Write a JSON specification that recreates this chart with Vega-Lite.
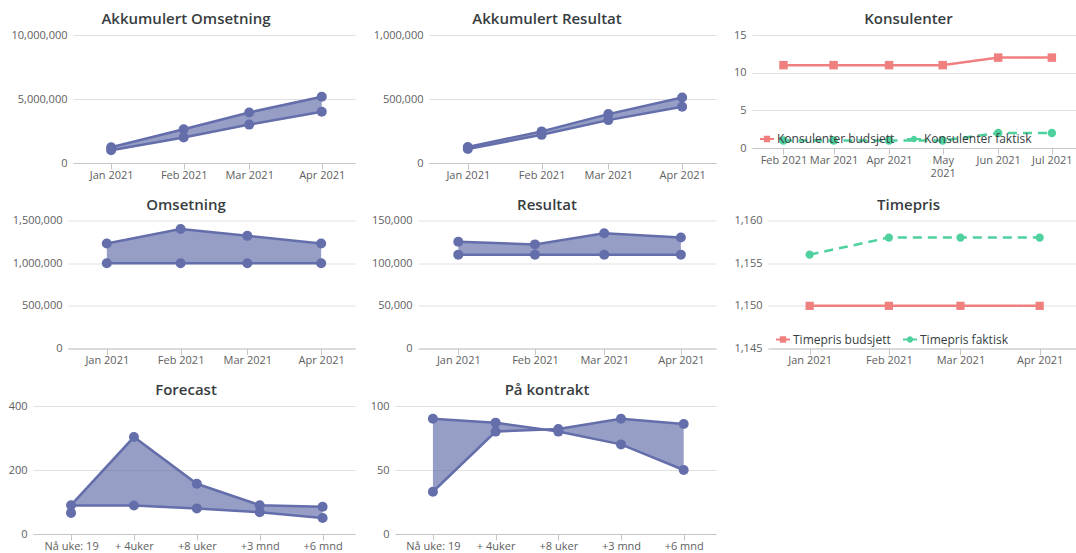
{
  "$schema": "https://vega.github.io/schema/vega-lite/v6.json",
  "padding": {"left": 0, "top": 12, "right": 0, "bottom": 0},
  "columns": 1,
  "align": "none",
  "spacing": 17.5,
  "config": {
    "font": "Open Sans",
    "view": {"stroke": null},
    "title": {"font": "Open Sans", "fontSize": 15, "fontWeight": 600, "color": "#373d3f", "offset": 2, "baseline": "alphabetic", "anchor": "middle", "frame": "group"},
    "axis": {"labelFont": "Open Sans", "labelFontSize": 11, "labelColor": "#606060", "title": null, "gridColor": "#e0e0e0", "domainColor": "#c6c6c6", "tickColor": "#c6c6c6"},
    "axisX": {"grid": false, "tickSize": 6, "labelPadding": 0, "labelAngle": 0, "labelOverlap": false, "labelFlush": false},
    "axisY": {"domain": false, "ticks": false, "tickSize": 0, "labelPadding": 6, "grid": true},
    "legend": {"labelFont": "Open Sans", "labelFontSize": 12, "labelColor": "#373d3f"}
  },
  "datasets": {
    "monthly": [
      {"month": "2021-01-01", "akk_oms_hi": 1230000, "akk_oms_lo": 1000000, "akk_res_hi": 125000, "akk_res_lo": 110000, "oms_hi": 1230000, "oms_lo": 1000000, "res_hi": 125000, "res_lo": 110000},
      {"month": "2021-02-01", "akk_oms_hi": 2630000, "akk_oms_lo": 2000000, "akk_res_hi": 247000, "akk_res_lo": 220000, "oms_hi": 1400000, "oms_lo": 1000000, "res_hi": 122000, "res_lo": 110000},
      {"month": "2021-03-01", "akk_oms_hi": 3950000, "akk_oms_lo": 3000000, "akk_res_hi": 382000, "akk_res_lo": 335000, "oms_hi": 1320000, "oms_lo": 1000000, "res_hi": 135000, "res_lo": 110000},
      {"month": "2021-04-01", "akk_oms_hi": 5180000, "akk_oms_lo": 4000000, "akk_res_hi": 512000, "akk_res_lo": 440000, "oms_hi": 1230000, "oms_lo": 1000000, "res_hi": 130000, "res_lo": 110000}
    ],
    "kons": [
      {"month": "2021-02-01", "series": "Konsulenter budsjett", "value": 11},
      {"month": "2021-03-01", "series": "Konsulenter budsjett", "value": 11},
      {"month": "2021-04-01", "series": "Konsulenter budsjett", "value": 11},
      {"month": "2021-05-01", "series": "Konsulenter budsjett", "value": 11},
      {"month": "2021-06-01", "series": "Konsulenter budsjett", "value": 12},
      {"month": "2021-07-01", "series": "Konsulenter budsjett", "value": 12},
      {"month": "2021-02-01", "series": "Konsulenter faktisk", "value": 1},
      {"month": "2021-03-01", "series": "Konsulenter faktisk", "value": 1},
      {"month": "2021-04-01", "series": "Konsulenter faktisk", "value": 1},
      {"month": "2021-05-01", "series": "Konsulenter faktisk", "value": 1},
      {"month": "2021-06-01", "series": "Konsulenter faktisk", "value": 2},
      {"month": "2021-07-01", "series": "Konsulenter faktisk", "value": 2}
    ],
    "timepris": [
      {"month": "2021-01-01", "series": "Timepris budsjett", "value": 1150},
      {"month": "2021-02-01", "series": "Timepris budsjett", "value": 1150},
      {"month": "2021-03-01", "series": "Timepris budsjett", "value": 1150},
      {"month": "2021-04-01", "series": "Timepris budsjett", "value": 1150},
      {"month": "2021-01-01", "series": "Timepris faktisk", "value": 1156},
      {"month": "2021-02-01", "series": "Timepris faktisk", "value": 1158},
      {"month": "2021-03-01", "series": "Timepris faktisk", "value": 1158},
      {"month": "2021-04-01", "series": "Timepris faktisk", "value": 1158}
    ],
    "forecast": [
      {"k": "Nå uke: 19", "hi": 90, "lo": 66, "lo_line": 89},
      {"k": "+ 4uker", "hi": 303, "lo": 89, "lo_line": 89},
      {"k": "+8 uker", "hi": 157, "lo": 80, "lo_line": 80},
      {"k": "+3 mnd", "hi": 90, "lo": 68, "lo_line": 68},
      {"k": "+6 mnd", "hi": 85, "lo": 50, "lo_line": 50}
    ],
    "kontrakt": [
      {"k": "Nå uke: 19", "a": 90, "b": 33},
      {"k": "+ 4uker", "a": 87, "b": 80},
      {"k": "+8 uker", "a": 80, "b": 82},
      {"k": "+3 mnd", "a": 70, "b": 90},
      {"k": "+6 mnd", "a": 50, "b": 86}
    ]
  },
  "concat": [
    {
      "spacing": 2,
      "hconcat": [
        {"width": 7, "height": 1, "data": {"values": []}, "mark": {"type": "point"}, "encoding": {}},
        {
          "width": 282, "height": 128,
          "title": {"text": "Akkumulert Omsetning", "dx": -28},
          "data": {"name": "monthly"},
          "encoding": {"x": {"field": "month", "type": "temporal",
            "scale": {"type": "utc", "domain": [{"year": 2020, "month": 12, "date": 15, "hours": 17, "utc": true}, {"year": 2021, "month": 4, "date": 15, "hours": 5, "utc": true}]},
            "axis": {"values": [{"year": 2021, "month": 1, "date": 1, "utc": true}, {"year": 2021, "month": 2, "date": 1, "utc": true}, {"year": 2021, "month": 3, "date": 1, "utc": true}, {"year": 2021, "month": 4, "date": 1, "utc": true}], "labelExpr": "utcFormat(datum.value, '%b %Y')"}}},
          "layer": [
            {"mark": {"type": "area", "color": "#646eaa", "opacity": 0.67},
             "encoding": {"y": {"field": "akk_oms_hi", "type": "quantitative", "scale": {"domain": [0, 10000000], "nice": false}, "axis": {"values": [0, 5000000, 10000000], "format": ",.0f", "minExtent": 64}}, "y2": {"field": "akk_oms_lo"}}},
            {"transform": [{"fold": ["akk_oms_hi", "akk_oms_lo"]}],
             "mark": {"type": "line", "color": "#646eaa", "strokeWidth": 2.5},
             "encoding": {"y": {"field": "value", "type": "quantitative", "scale": {"domain": [0, 10000000], "nice": false}}, "detail": {"field": "key"}}},
            {"transform": [{"fold": ["akk_oms_hi", "akk_oms_lo"]}],
             "mark": {"type": "point", "filled": true, "opacity": 1, "size": 100, "color": "#646eaa"},
             "encoding": {"y": {"field": "value", "type": "quantitative", "scale": {"domain": [0, 10000000], "nice": false}}}}
          ]
        },
        {
          "width": 287, "height": 128,
          "title": {"text": "Akkumulert Resultat", "dx": -25.5},
          "data": {"name": "monthly"},
          "encoding": {"x": {"field": "month", "type": "temporal",
            "scale": {"type": "utc", "domain": [{"year": 2020, "month": 12, "date": 15, "hours": 17, "utc": true}, {"year": 2021, "month": 4, "date": 15, "hours": 5, "utc": true}]},
            "axis": {"values": [{"year": 2021, "month": 1, "date": 1, "utc": true}, {"year": 2021, "month": 2, "date": 1, "utc": true}, {"year": 2021, "month": 3, "date": 1, "utc": true}, {"year": 2021, "month": 4, "date": 1, "utc": true}], "labelExpr": "utcFormat(datum.value, '%b %Y')"}}},
          "layer": [
            {"mark": {"type": "area", "color": "#646eaa", "opacity": 0.67},
             "encoding": {"y": {"field": "akk_res_hi", "type": "quantitative", "scale": {"domain": [0, 1000000], "nice": false}, "axis": {"values": [0, 500000, 1000000], "format": ",.0f", "minExtent": 72}}, "y2": {"field": "akk_res_lo"}}},
            {"transform": [{"fold": ["akk_res_hi", "akk_res_lo"]}],
             "mark": {"type": "line", "color": "#646eaa", "strokeWidth": 2.5},
             "encoding": {"y": {"field": "value", "type": "quantitative", "scale": {"domain": [0, 1000000], "nice": false}}, "detail": {"field": "key"}}},
            {"transform": [{"fold": ["akk_res_hi", "akk_res_lo"]}],
             "mark": {"type": "point", "filled": true, "opacity": 1, "size": 100, "color": "#646eaa"},
             "encoding": {"y": {"field": "value", "type": "quantitative", "scale": {"domain": [0, 1000000], "nice": false}}}}
          ]
        },
        {
          "width": 324, "height": 113,
          "title": {"text": "Konsulenter", "dx": -5.5},
          "data": {"name": "kons"},
          "encoding": {
            "x": {"field": "month", "type": "temporal",
              "scale": {"type": "utc", "domain": [{"year": 2021, "month": 1, "date": 14, "hours": 10, "utc": true}, {"year": 2021, "month": 7, "date": 14, "hours": 12, "utc": true}]},
              "axis": {"values": [{"year": 2021, "month": 2, "date": 1, "utc": true}, {"year": 2021, "month": 3, "date": 1, "utc": true}, {"year": 2021, "month": 4, "date": 1, "utc": true}, {"year": 2021, "month": 5, "date": 1, "utc": true}, {"year": 2021, "month": 6, "date": 1, "utc": true}, {"year": 2021, "month": 7, "date": 1, "utc": true}], "labelExpr": "utcmonth(datum.value) == 4 ? ['May', '2021'] : utcFormat(datum.value, '%b %Y')", "labelLineHeight": 13}},
            "y": {"field": "value", "type": "quantitative", "scale": {"domain": [0, 15], "nice": false}, "axis": {"values": [0, 5, 10, 15], "minExtent": 34}}
          },
          "layer": [
            {"mark": {"type": "line", "strokeWidth": 2.5},
             "encoding": {
               "color": {"field": "series", "type": "nominal", "scale": {"domain": ["Konsulenter budsjett", "Konsulenter faktisk"], "range": ["#f08080", "#4fd19e"]}, "legend": null},
               "strokeDash": {"field": "series", "type": "nominal", "scale": {"domain": ["Konsulenter budsjett", "Konsulenter faktisk"], "range": [[1, 0], [9, 6]]}, "legend": null}}},
            {"mark": {"type": "point", "filled": true, "opacity": 1, "size": 72},
             "encoding": {
               "color": {"field": "series", "type": "nominal", "scale": {"domain": ["Konsulenter budsjett", "Konsulenter faktisk"], "range": ["#f08080", "#4fd19e"]}, "legend": null},
               "shape": {"field": "series", "type": "nominal", "scale": {"domain": ["Konsulenter budsjett", "Konsulenter faktisk"], "range": ["square", "circle"]}, "legend": null}}},
            {"transform": [{"filter": "false"}],
             "mark": {"type": "point", "filled": true, "opacity": 1},
             "encoding": {
               "color": {"field": "series", "type": "nominal", "scale": {"domain": ["Konsulenter budsjett", "Konsulenter faktisk"], "range": ["#f08080", "#4fd19e"]},
                 "legend": {"orient": "none", "legendX": 8, "legendY": 97, "direction": "horizontal", "title": null, "symbolSize": 196, "symbolStrokeWidth": 0, "columnPadding": 12, "labelOffset": 3}},
               "shape": {"field": "series", "type": "nominal", "scale": {"domain": ["Konsulenter budsjett", "Konsulenter faktisk"], "range": ["M-1,-0.14H1V0.14H-1Z M-0.45,-0.45H0.45V0.45H-0.45Z", "M-1,-0.14H1V0.14H-1Z M0.45,0A0.45,0.45,0,1,1,-0.45,0A0.45,0.45,0,1,1,0.45,0Z"]},
                 "legend": {"orient": "none", "legendX": 8, "legendY": 97, "direction": "horizontal", "title": null, "symbolSize": 196, "symbolStrokeWidth": 0, "columnPadding": 12, "labelOffset": 3}}}}
          ],
          "resolve": {"scale": {"color": "independent", "shape": "independent", "strokeDash": "independent"}}
        }
      ]
    },
    {
      "spacing": 2,
      "hconcat": [
        {"width": 4, "height": 1, "data": {"values": []}, "mark": {"type": "point"}, "encoding": {}},
        {
          "width": 287, "height": 128,
          "title": {"text": "Omsetning", "dx": -25.5},
          "data": {"name": "monthly"},
          "encoding": {"x": {"field": "month", "type": "temporal",
            "scale": {"type": "utc", "domain": [{"year": 2020, "month": 12, "date": 15, "hours": 17, "utc": true}, {"year": 2021, "month": 4, "date": 15, "hours": 5, "utc": true}]},
            "axis": {"values": [{"year": 2021, "month": 1, "date": 1, "utc": true}, {"year": 2021, "month": 2, "date": 1, "utc": true}, {"year": 2021, "month": 3, "date": 1, "utc": true}, {"year": 2021, "month": 4, "date": 1, "utc": true}], "labelExpr": "utcFormat(datum.value, '%b %Y')"}}},
          "layer": [
            {"mark": {"type": "area", "color": "#646eaa", "opacity": 0.67},
             "encoding": {"y": {"field": "oms_hi", "type": "quantitative", "scale": {"domain": [0, 1500000], "nice": false}, "axis": {"values": [0, 500000, 1000000, 1500000], "format": ",.0f", "minExtent": 62}}, "y2": {"field": "oms_lo"}}},
            {"transform": [{"fold": ["oms_hi", "oms_lo"]}],
             "mark": {"type": "line", "color": "#646eaa", "strokeWidth": 2.5},
             "encoding": {"y": {"field": "value", "type": "quantitative", "scale": {"domain": [0, 1500000], "nice": false}}, "detail": {"field": "key"}}},
            {"transform": [{"fold": ["oms_hi", "oms_lo"]}],
             "mark": {"type": "point", "filled": true, "opacity": 1, "size": 100, "color": "#646eaa"},
             "encoding": {"y": {"field": "value", "type": "quantitative", "scale": {"domain": [0, 1500000], "nice": false}}}}
          ]
        },
        {
          "width": 298, "height": 128,
          "title": {"text": "Resultat", "dx": -20},
          "data": {"name": "monthly"},
          "encoding": {"x": {"field": "month", "type": "temporal",
            "scale": {"type": "utc", "domain": [{"year": 2020, "month": 12, "date": 15, "hours": 17, "utc": true}, {"year": 2021, "month": 4, "date": 15, "hours": 5, "utc": true}]},
            "axis": {"values": [{"year": 2021, "month": 1, "date": 1, "utc": true}, {"year": 2021, "month": 2, "date": 1, "utc": true}, {"year": 2021, "month": 3, "date": 1, "utc": true}, {"year": 2021, "month": 4, "date": 1, "utc": true}], "labelExpr": "utcFormat(datum.value, '%b %Y')"}}},
          "layer": [
            {"mark": {"type": "area", "color": "#646eaa", "opacity": 0.67},
             "encoding": {"y": {"field": "res_hi", "type": "quantitative", "scale": {"domain": [0, 150000], "nice": false}, "axis": {"values": [0, 50000, 100000, 150000], "format": ",.0f", "minExtent": 61}}, "y2": {"field": "res_lo"}}},
            {"transform": [{"fold": ["res_hi", "res_lo"]}],
             "mark": {"type": "line", "color": "#646eaa", "strokeWidth": 2.5},
             "encoding": {"y": {"field": "value", "type": "quantitative", "scale": {"domain": [0, 150000], "nice": false}}, "detail": {"field": "key"}}},
            {"transform": [{"fold": ["res_hi", "res_lo"]}],
             "mark": {"type": "point", "filled": true, "opacity": 1, "size": 100, "color": "#646eaa"},
             "encoding": {"y": {"field": "value", "type": "quantitative", "scale": {"domain": [0, 150000], "nice": false}}}}
          ]
        },
        {
          "width": 308, "height": 128,
          "title": {"text": "Timepris", "dx": -13.5},
          "data": {"name": "timepris"},
          "encoding": {
            "x": {"field": "month", "type": "temporal",
              "scale": {"type": "utc", "domain": [{"year": 2020, "month": 12, "date": 15, "hours": 17, "utc": true}, {"year": 2021, "month": 4, "date": 15, "hours": 5, "utc": true}]},
              "axis": {"values": [{"year": 2021, "month": 1, "date": 1, "utc": true}, {"year": 2021, "month": 2, "date": 1, "utc": true}, {"year": 2021, "month": 3, "date": 1, "utc": true}, {"year": 2021, "month": 4, "date": 1, "utc": true}], "labelExpr": "utcFormat(datum.value, '%b %Y')"}},
            "y": {"field": "value", "type": "quantitative", "scale": {"domain": [1145, 1160], "nice": false, "zero": false}, "axis": {"values": [1145, 1150, 1155, 1160], "format": ",.0f", "minExtent": 50}}
          },
          "layer": [
            {"mark": {"type": "line", "strokeWidth": 2.5},
             "encoding": {
               "color": {"field": "series", "type": "nominal", "scale": {"domain": ["Timepris budsjett", "Timepris faktisk"], "range": ["#f08080", "#4fd19e"]}, "legend": null},
               "strokeDash": {"field": "series", "type": "nominal", "scale": {"domain": ["Timepris budsjett", "Timepris faktisk"], "range": [[1, 0], [9, 6]]}, "legend": null}}},
            {"mark": {"type": "point", "filled": true, "opacity": 1, "size": 68},
             "encoding": {
               "color": {"field": "series", "type": "nominal", "scale": {"domain": ["Timepris budsjett", "Timepris faktisk"], "range": ["#f08080", "#4fd19e"]}, "legend": null},
               "shape": {"field": "series", "type": "nominal", "scale": {"domain": ["Timepris budsjett", "Timepris faktisk"], "range": ["square", "circle"]}, "legend": null}}},
            {"transform": [{"filter": "false"}],
             "mark": {"type": "point", "filled": true, "opacity": 1},
             "encoding": {
               "color": {"field": "series", "type": "nominal", "scale": {"domain": ["Timepris budsjett", "Timepris faktisk"], "range": ["#f08080", "#4fd19e"]},
                 "legend": {"orient": "none", "legendX": 8, "legendY": 112, "direction": "horizontal", "title": null, "symbolSize": 196, "symbolStrokeWidth": 0, "columnPadding": 12, "labelOffset": 3}},
               "shape": {"field": "series", "type": "nominal", "scale": {"domain": ["Timepris budsjett", "Timepris faktisk"], "range": ["M-1,-0.14H1V0.14H-1Z M-0.45,-0.45H0.45V0.45H-0.45Z", "M-1,-0.14H1V0.14H-1Z M0.45,0A0.45,0.45,0,1,1,-0.45,0A0.45,0.45,0,1,1,0.45,0Z"]},
                 "legend": {"orient": "none", "legendX": 8, "legendY": 112, "direction": "horizontal", "title": null, "symbolSize": 196, "symbolStrokeWidth": 0, "columnPadding": 12, "labelOffset": 3}}}}
          ],
          "resolve": {"scale": {"color": "independent", "shape": "independent", "strokeDash": "independent"}}
        }
      ]
    },
    {
      "spacing": 2,
      "hconcat": [
        {"width": 3, "height": 1, "data": {"values": []}, "mark": {"type": "point"}, "encoding": {}},
        {
          "width": 322, "height": 128,
          "title": {"text": "Forecast", "dx": -8},
          "data": {"name": "forecast"},
          "encoding": {"x": {"field": "k", "type": "ordinal", "sort": ["Nå uke: 19", "+ 4uker", "+8 uker", "+3 mnd", "+6 mnd"], "scale": {"type": "point", "padding": 0.56, "align": 0.54}}},
          "layer": [
            {"mark": {"type": "area", "color": "#646eaa", "opacity": 0.67},
             "encoding": {"y": {"field": "hi", "type": "quantitative", "scale": {"domain": [0, 400], "nice": false}, "axis": {"values": [0, 200, 400], "minExtent": 28}}, "y2": {"field": "lo_line"}}},
            {"transform": [{"fold": ["hi", "lo_line"]}],
             "mark": {"type": "line", "color": "#646eaa", "strokeWidth": 2.5},
             "encoding": {"y": {"field": "value", "type": "quantitative", "scale": {"domain": [0, 400], "nice": false}}, "detail": {"field": "key"}}},
            {"transform": [{"fold": ["hi", "lo"]}],
             "mark": {"type": "point", "filled": true, "opacity": 1, "size": 100, "color": "#646eaa"},
             "encoding": {"y": {"field": "value", "type": "quantitative", "scale": {"domain": [0, 400], "nice": false}}}}
          ]
        },
        {
          "width": 321, "height": 128,
          "title": {"text": "På kontrakt", "dx": -8.5},
          "data": {"name": "kontrakt"},
          "encoding": {"x": {"field": "k", "type": "ordinal", "sort": ["Nå uke: 19", "+ 4uker", "+8 uker", "+3 mnd", "+6 mnd"], "scale": {"type": "point", "padding": 0.56, "align": 0.54}}},
          "layer": [
            {"mark": {"type": "area", "color": "#646eaa", "opacity": 0.67},
             "encoding": {"y": {"field": "a", "type": "quantitative", "scale": {"domain": [0, 100], "nice": false}, "axis": {"values": [0, 50, 100], "minExtent": 38}}, "y2": {"field": "b"}}},
            {"transform": [{"fold": ["a", "b"]}],
             "mark": {"type": "line", "color": "#646eaa", "strokeWidth": 2.5},
             "encoding": {"y": {"field": "value", "type": "quantitative", "scale": {"domain": [0, 100], "nice": false}}, "detail": {"field": "key"}}},
            {"transform": [{"fold": ["a", "b"]}],
             "mark": {"type": "point", "filled": true, "opacity": 1, "size": 100, "color": "#646eaa"},
             "encoding": {"y": {"field": "value", "type": "quantitative", "scale": {"domain": [0, 100], "nice": false}}}}
          ]
        }
      ]
    }
  ]
}
